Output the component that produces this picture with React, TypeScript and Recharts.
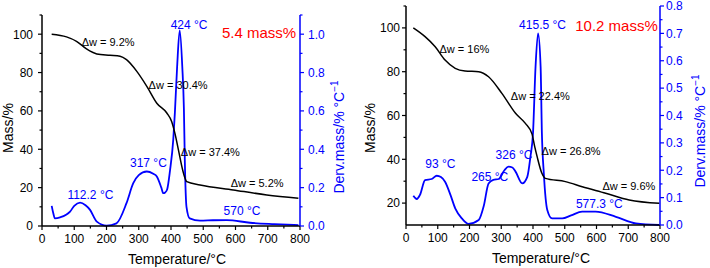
import React from 'react';
import { ComposedChart, Line, XAxis, YAxis, ReferenceDot } from 'recharts';

const FONT = '"Liberation Sans", Arial, Helvetica, sans-serif';
const BLUE = '#0000ff';
const RED = '#ff0000';
const BLACK = '#000000';
const TICK_FS = 12;

// ---------- shared axis values ----------
const tempTicks = [0, 50, 100, 150, 200, 250, 300, 350, 400, 450, 500, 550, 600, 650, 700, 750, 800];
const tempTopTicks = [0, 100, 200, 300, 400, 500, 600, 700, 800];

// ---------- panel A : 5.4 mass% ----------
const titleA = '5.4 mass%';
const massTempA = [30, 76, 107, 138, 170, 211, 242, 262, 294, 325, 356, 387, 402, 412, 423, 436, 449, 490, 593, 697, 795];
const massA = [100, 98.6, 96.3, 92.3, 89.7, 89, 88.5, 86.7, 80.6, 72.8, 64, 58.9, 54.5, 48.4, 39.7, 29.3, 23.1, 21.4, 18.8, 16.2, 14.5];
const dtgTempA = [30, 35, 40, 56, 87, 100, 118, 135, 149, 170, 200, 231, 262, 283, 300, 325, 345, 356, 370, 376, 382, 388, 397, 407, 412, 419, 427, 435, 440, 443, 448, 458, 490, 530, 573, 645, 720, 795];
const dtgA = [0.105, 0.066, 0.04, 0.045, 0.075, 0.105, 0.122, 0.108, 0.084, 0.023, 0.002, 0.014, 0.119, 0.223, 0.265, 0.284, 0.272, 0.258, 0.2, 0.171, 0.175, 0.19, 0.29, 0.45, 0.59, 0.83, 1.02, 0.83, 0.61, 0.33, 0.1, 0.04, 0.028, 0.03, 0.031, 0.017, 0.01, 0.005];
const massTicksA = [0, 10, 20, 30, 40, 50, 60, 70, 80, 90, 100, 110];
const dtgTicksA = [0, 0.1, 0.2, 0.3, 0.4, 0.5, 0.6, 0.7, 0.8, 0.9, 1.0, 1.1];
const dwTextA = ['Δw = 9.2%', 'Δw = 30.4%', 'Δw = 37.4%', 'Δw = 5.2%'];
const dwTempA = [205, 422, 522, 667];
const dwMassA = [95.8, 73.3, 38.5, 22.3];
const peakTextA = ['424 °C', '317 °C', '112.2 °C', '570 °C'];
const peakTempA = [456, 330, 150, 620];
const peakMassA = [105, 32.8, 16.2, 8];
const titleTempA = 673;
const titleMassA = 101;

// ---------- panel B : 10.2 mass% ----------
const titleB = '10.2 mass%';
const massTempB = [23, 60, 92, 123, 155, 186, 229, 260, 302, 345, 376, 397, 405, 413, 428, 439, 502, 555, 629, 703, 798];
const massB = [100, 96, 91.4, 85.3, 81.5, 80.3, 80, 77.7, 70.1, 61, 56.4, 51.5, 46, 41.2, 33.6, 31.3, 29.8, 27.5, 24.5, 21.4, 19.9];
const dtgTempB = [23, 34, 44, 60, 81, 97, 110, 123, 140, 155, 176, 197, 229, 245, 260, 275, 292, 310, 323, 335, 345, 366, 382, 392, 400, 408, 416, 424, 428, 434, 445, 460, 492, 520, 555, 597, 661, 724, 798];
const dtgB = [0.107, 0.095, 0.11, 0.164, 0.168, 0.18, 0.175, 0.158, 0.11, 0.061, 0.024, 0.004, 0.018, 0.07, 0.152, 0.165, 0.168, 0.2, 0.213, 0.21, 0.195, 0.152, 0.176, 0.25, 0.335, 0.578, 0.7, 0.578, 0.335, 0.19, 0.055, 0.024, 0.024, 0.035, 0.049, 0.049, 0.03, 0.006, 0.0];
const massTicksB = [20, 30, 40, 50, 60, 70, 80, 90, 100, 110];
const dtgTicksB = [0, 0.05, 0.1, 0.15, 0.2, 0.25, 0.3, 0.35, 0.4, 0.45, 0.5, 0.55, 0.6, 0.65, 0.7, 0.75, 0.8];
const dwTextB = ['Δw = 16%', 'Δw = 22.4%', 'Δw = 26.8%', 'Δw = 9.6%'];
const dwTempB = [184, 423, 520, 702];
const dwMassB = [90.2, 69, 43.8, 27.8];
const peakTextB = ['415.5 °C', '93 °C', '265 °C', '326 °C', '577.3 °C'];
const peakTempB = [430, 108, 264, 340, 609];
const peakMassB = [101.3, 37.9, 32, 42, 19.6];
const titleTempB = 663;
const titleMassB = 101;

const rows = (ts: number[], vs: number[]) => ts.map((t, i) => ({ t, v: vs[i] }));

type TickOpts = {
  orient: 'left' | 'right' | 'bottom' | 'top';
  size: number;
  margin: number;
  major: (v: number) => boolean;
  fmt: (v: number) => string;
  color: string;
  labels: boolean;
};

function makeTick(o: TickOpts) {
  return (p: any) => {
    const v = Number(p.payload.value);
    const isMajor = o.major(v);
    const len = isMajor ? 4 : 2.5;
    let line: React.ReactNode = null;
    let label: React.ReactNode = null;
    if (o.orient === 'left') {
      const ax = p.x + o.size + o.margin;
      line = <line x1={ax} x2={ax - len} y1={p.y} y2={p.y} stroke={o.color} strokeWidth={1.2} />;
      if (o.labels && isMajor)
        label = <text x={p.x} y={p.y} dy="0.36em" textAnchor="end" fill={o.color} fontSize={TICK_FS} fontFamily={FONT}>{o.fmt(v)}</text>;
    } else if (o.orient === 'right') {
      const ax = p.x - o.size - o.margin;
      line = <line x1={ax} x2={ax + len} y1={p.y} y2={p.y} stroke={o.color} strokeWidth={1.2} />;
      if (o.labels && isMajor)
        label = <text x={p.x} y={p.y} dy="0.36em" textAnchor="start" fill={o.color} fontSize={TICK_FS} fontFamily={FONT}>{o.fmt(v)}</text>;
    } else if (o.orient === 'bottom') {
      const ay = p.y - o.size - o.margin;
      line = <line x1={p.x} x2={p.x} y1={ay} y2={ay + len} stroke={o.color} strokeWidth={1.2} />;
      if (o.labels && isMajor)
        label = <text x={p.x} y={p.y} dy="0.72em" textAnchor="middle" fill={o.color} fontSize={TICK_FS} fontFamily={FONT}>{o.fmt(v)}</text>;
    } else {
      const ay = p.y + o.size + o.margin;
      line = <line x1={p.x} x2={p.x} y1={ay} y2={ay + len} stroke={o.color} strokeWidth={1.2} />;
    }
    return (
      <g>
        {line}
        {label}
      </g>
    );
  };
}

const xTitle = (dx: number, dy: number) => (props: any) => {
  const vb = props.viewBox;
  return (
    <text x={vb.x + vb.width / 2 + dx} y={vb.y + dy} textAnchor="middle" dominantBaseline="central" fontSize={14} fontFamily={FONT} fill={BLACK}>
      Temperature/°C
    </text>
  );
};

const massTitle = (cx: number, cy: number) => () => (
  <text x={cx} y={cy} transform={`rotate(-90, ${cx}, ${cy})`} textAnchor="middle" dominantBaseline="central" fontSize={14} fontFamily={FONT} fill={BLACK}>
    Mass/%
  </text>
);

const dtgTitle = (cx: number, cy: number) => () => (
  <text x={cx} y={cy} transform={`rotate(-90, ${cx}, ${cy})`} textAnchor="middle" dominantBaseline="central" fontSize={14} fontFamily={FONT} fill={BLUE}>
    Derv.mass/% °C
    <tspan dy={-5} fontSize={10}>−1</tspan>
  </text>
);

const noteLabel = (text: string, color: string, size: number) => (props: any) => {
  const vb = props.viewBox;
  const x = vb.x + (vb.width || 0) / 2;
  const y = vb.y + (vb.height || 0) / 2;
  return (
    <text x={x} y={y} textAnchor="middle" dominantBaseline="central" fontSize={size} fontFamily={FONT} fill={color}>
      {text}
    </text>
  );
};

type PanelCfg = {
  width: number;
  top: number;
  xHeight: number;
  leftW: number;
  rightW: number;
  massDomain: [number, number];
  massTicks: number[];
  massMajor: (v: number) => boolean;
  massTickMargin: number;
  dtgDomain: [number, number];
  dtgTicks: number[];
  dtgMajor: (v: number) => boolean;
  dtgFmt: (v: number) => string;
  dtgTickMargin: number;
  massTemp: number[];
  mass: number[];
  dtgTemp: number[];
  dtg: number[];
  dwText: string[];
  dwTemp: number[];
  dwMass: number[];
  peakText: string[];
  peakTemp: number[];
  peakMass: number[];
  title: string;
  titleTemp: number;
  titleMass: number;
  xTitleDx: number;
  massTitleX: number;
  massTitleY: number;
  dtgTitleX: number;
  dtgTitleY: number;
};

function Panel({ c }: { c: PanelCfg }) {
  const massRows = rows(c.massTemp, c.mass);
  const dtgRows = rows(c.dtgTemp, c.dtg);
  return (
    <ComposedChart width={c.width} height={268} margin={{ top: c.top, right: 0, bottom: 0, left: 0 }}>
      <XAxis
        xAxisId="b"
        dataKey="t"
        type="number"
        domain={[0, 800]}
        ticks={tempTicks}
        interval={0}
        height={c.xHeight}
        tickSize={4}
        tickMargin={4}
        tickLine={false}
        axisLine={{ stroke: BLACK, strokeWidth: 1.5 }}
        tick={makeTick({ orient: 'bottom', size: 4, margin: 4, major: (v) => v % 100 === 0, fmt: (v) => String(v), color: BLACK, labels: true })}
        label={{ content: xTitle(c.xTitleDx, 33) }}
      />
      <XAxis
        xAxisId="t"
        orientation="top"
        type="number"
        domain={[0, 800]}
        ticks={tempTopTicks}
        interval={0}
        height={0}
        tickSize={0}
        tickMargin={0}
        tickLine={false}
        axisLine={{ stroke: BLACK, strokeWidth: 1.5 }}
        tick={makeTick({ orient: 'top', size: 0, margin: 0, major: () => true, fmt: () => '', color: BLACK, labels: false })}
      />
      <YAxis
        yAxisId="m"
        type="number"
        domain={c.massDomain}
        ticks={c.massTicks}
        interval={0}
        width={c.leftW}
        tickSize={4}
        tickMargin={c.massTickMargin}
        tickLine={false}
        axisLine={{ stroke: BLACK, strokeWidth: 1.5 }}
        tick={makeTick({ orient: 'left', size: 4, margin: c.massTickMargin, major: c.massMajor, fmt: (v) => String(v), color: BLACK, labels: true })}
        label={{ content: massTitle(c.massTitleX, c.massTitleY) }}
      />
      <YAxis
        yAxisId="d"
        orientation="right"
        type="number"
        domain={c.dtgDomain}
        ticks={c.dtgTicks}
        interval={0}
        width={c.rightW}
        tickSize={4}
        tickMargin={c.dtgTickMargin}
        tickLine={false}
        axisLine={{ stroke: BLUE, strokeWidth: 1.5 }}
        tick={makeTick({ orient: 'right', size: 4, margin: c.dtgTickMargin, major: c.dtgMajor, fmt: c.dtgFmt, color: BLUE, labels: true })}
        label={{ content: dtgTitle(c.dtgTitleX, c.dtgTitleY) }}
      />
      <Line xAxisId="b" yAxisId="d" data={dtgRows} dataKey="v" type="monotone" stroke={BLUE} strokeWidth={1.8} dot={false} activeDot={false} isAnimationActive={false} />
      <Line xAxisId="b" yAxisId="m" data={massRows} dataKey="v" type="monotone" stroke={BLACK} strokeWidth={1.5} dot={false} activeDot={false} isAnimationActive={false} />
      {c.dwText.map((t, i) => (
        <ReferenceDot key={'dw' + i} xAxisId="b" yAxisId="m" x={c.dwTemp[i]} y={c.dwMass[i]} r={0} fill="none" stroke="none" label={{ content: noteLabel(t, BLACK, 11) }} />
      ))}
      {c.peakText.map((t, i) => (
        <ReferenceDot key={'pk' + i} xAxisId="b" yAxisId="m" x={c.peakTemp[i]} y={c.peakMass[i]} r={0} fill="none" stroke="none" label={{ content: noteLabel(t, BLUE, 12) }} />
      ))}
      <ReferenceDot xAxisId="b" yAxisId="m" x={c.titleTemp} y={c.titleMass} r={0} fill="none" stroke="none" label={{ content: noteLabel(c.title, RED, 15) }} />
    </ComposedChart>
  );
}

const panelA: PanelCfg = {
  width: 355,
  top: 15,
  xHeight: 42,
  leftW: 42,
  rightW: 55,
  massDomain: [0, 110],
  massTicks: massTicksA,
  massMajor: (v) => v % 20 === 0,
  massTickMargin: 5,
  dtgDomain: [0, 1.1],
  dtgTicks: dtgTicksA,
  dtgMajor: (v) => Math.round(v * 10) % 2 === 0,
  dtgFmt: (v) => v.toFixed(1),
  dtgTickMargin: 4,
  massTemp: massTempA,
  mass: massA,
  dtgTemp: dtgTempA,
  dtg: dtgA,
  dwText: dwTextA,
  dwTemp: dwTempA,
  dwMass: dwMassA,
  peakText: peakTextA,
  peakTemp: peakTempA,
  peakMass: peakMassA,
  title: titleA,
  titleTemp: titleTempA,
  titleMass: titleMassA,
  xTitleDx: 6,
  massTitleX: 8,
  massTitleY: 128,
  dtgTitleX: 339,
  dtgTitleY: 137,
};

const panelB: PanelCfg = {
  width: 355,
  top: 6,
  xHeight: 43,
  leftW: 51,
  rightW: 50,
  massDomain: [10, 110],
  massTicks: massTicksB,
  massMajor: (v) => v % 20 === 0,
  massTickMargin: 2,
  dtgDomain: [0, 0.8],
  dtgTicks: dtgTicksB,
  dtgMajor: (v) => Math.round(v * 100) % 10 === 0,
  dtgFmt: (v) => v.toFixed(1),
  dtgTickMargin: 2,
  massTemp: massTempB,
  mass: massB,
  dtgTemp: dtgTempB,
  dtg: dtgB,
  dwText: dwTextB,
  dwTemp: dwTempB,
  dwMass: dwMassB,
  peakText: peakTextB,
  peakTemp: peakTempB,
  peakMass: peakMassB,
  title: titleB,
  titleTemp: titleTempB,
  titleMass: titleMassB,
  xTitleDx: 8,
  massTitleX: 15,
  massTitleY: 128,
  dtgTitleX: 345,
  dtgTitleY: 131,
};

export default function App() {
  return (
    <div style={{ position: 'absolute', left: 0, top: 0, width: 710, height: 268, background: '#fff', overflow: 'hidden' }}>
      <div style={{ position: 'absolute', left: 0, top: 0 }}>
        <Panel c={panelA} />
      </div>
      <div style={{ position: 'absolute', left: 355, top: 0 }}>
        <Panel c={panelB} />
      </div>
    </div>
  );
}
